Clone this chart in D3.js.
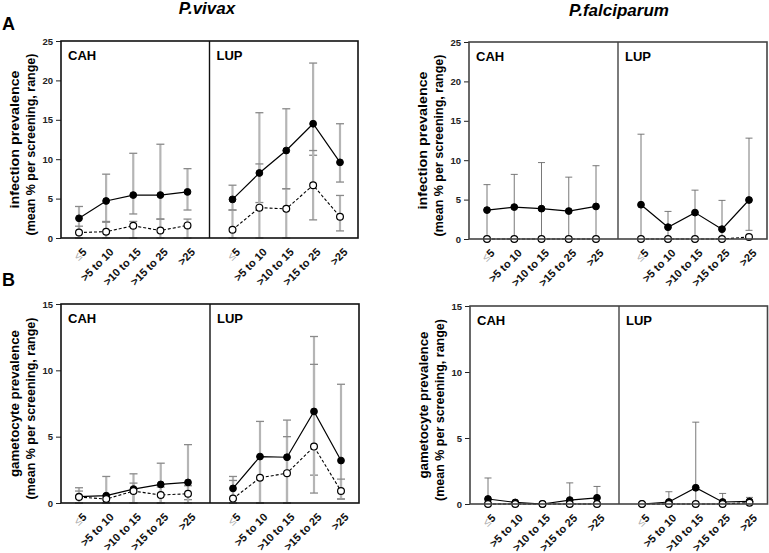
<!DOCTYPE html>
<html><head><meta charset="utf-8">
<script src="https://cdn.jsdelivr.net/npm/d3@7"></script>
<style>
body{margin:0;background:#fff}
text{font-family:"Liberation Sans",Arial,Helvetica,sans-serif}
</style>
</head><body>
<svg id="chart" width="769" height="553"></svg>
<script>
// ---------- data ----------
const categories = ["≤5", ">5 to 10", ">10 to 15", ">15 to 25", ">25"];
const sites = ["CAH", "LUP"];
const infectionTicks = [0, 5, 10, 15, 20, 25];
const gametocyteTicks = [0, 5, 10, 15];
const speciesTitles = ["P.vivax", "P.falciparum"];
const rowLetters = ["A", "B"];
const infectionLabel = ["infection prevalence", "(mean % per screening, range)"];
const gametocyteLabel = ["gametocyte prevalence", "(mean % per screening, range)"];

// each entry: [mean, min, max]
// P.vivax infection
const pvInfCAHFilled = [[2.5, 0, 4.0], [4.7, 2.1, 8.1], [5.45, 3.05, 10.75], [5.45, 2.4, 11.9], [5.85, 3.55, 8.8]];
const pvInfCAHOpen   = [[0.7, 0, 1.5], [0.8, 0, 2.0], [1.55, 0, 2.1], [0.95, 0, 2.4], [1.6, 0, 2.4]];
const pvInfLUPFilled = [[4.9, 3.55, 6.7], [8.25, 4.5, 15.9], [11.1, 6.25, 16.4], [14.5, 10.5, 22.2], [9.6, 7.1, 14.5]];
const pvInfLUPOpen   = [[1.05, 0, 3.55], [3.85, 0, 9.4], [3.7, 0, 6.25], [6.7, 2.3, 11.1], [2.7, 0.9, 5.4]];
// P.falciparum infection
const pfInfCAHFilled = [[3.67, 0, 6.9], [4.05, 0, 8.2], [3.85, 0, 9.7], [3.55, 0, 7.85], [4.13, 0, 9.3]];
const pfInfCAHOpen   = [[0, 0, 0], [0, 0, 0], [0, 0, 0], [0, 0, 0], [0, 0, 0]];
const pfInfLUPFilled = [[4.35, 0, 13.3], [1.5, 0, 3.5], [3.35, 0, 6.2], [1.25, 0, 4.9], [4.95, 1.1, 12.8]];
const pfInfLUPOpen   = [[0, 0, 0], [0, 0, 0], [0, 0, 0], [0, 0, 0], [0.25, 0, 0.25]];
// P.vivax gametocytes
const pvGamCAHFilled = [[0.48, 0, 1.15], [0.55, 0, 2.0], [1.05, 0, 2.2], [1.4, 0, 3.0], [1.55, 0.25, 4.4]];
const pvGamCAHOpen   = [[0.45, 0, 0.9], [0.3, 0, 0.6], [0.9, 0, 1.5], [0.6, 0, 1.2], [0.7, 0, 1.3]];
const pvGamLUPFilled = [[1.1, 0, 2.0], [3.5, 0, 6.15], [3.45, 0, 6.25], [6.9, 2.1, 12.55], [3.2, 0.3, 8.95]];
const pvGamLUPOpen   = [[0.33, 0, 1.7], [1.9, 0, 3.5], [2.25, 0, 5.0], [4.25, 0.75, 10.45], [0.9, 0.3, 1.8]];
// P.falciparum gametocytes
const pfGamCAHFilled = [[0.38, 0, 1.97], [0.12, 0, 0.15], [0, 0, 0], [0.3, 0, 1.6], [0.47, 0, 1.33]];
const pfGamCAHOpen   = [[0, 0, 0], [0, 0, 0], [0, 0, 0], [0, 0, 0], [0, 0, 0]];
const pfGamLUPFilled = [[0, 0, 0], [0.15, 0, 0.93], [1.23, 0, 6.2], [0.15, 0, 0.8], [0.2, 0, 0.5]];
const pfGamLUPOpen   = [[0, 0, 0], [0, 0, 0], [0, 0, 0], [0, 0, 0], [0.1, 0, 0.1]];

// ---------- layout ----------
const panels = [
  {x0: 61, div: 209.5, x1: 358, top: 41, bot: 238, ymax: 25, ticks: infectionTicks, label: infectionLabel,
   len: [138, 182], kind: "vivax", frame: "#111",
   data: {CAH: [pvInfCAHFilled, pvInfCAHOpen], LUP: [pvInfLUPFilled, pvInfLUPOpen]}},
  {x0: 469, div: 618, x1: 767, top: 42, bot: 239, ymax: 25, ticks: infectionTicks, label: infectionLabel,
   len: [138, 182], kind: "falc", frame: "#444",
   data: {CAH: [pfInfCAHFilled, pfInfCAHOpen], LUP: [pfInfLUPFilled, pfInfLUPOpen]}},
  {x0: 61, div: 210, x1: 359, top: 304, bot: 503, ymax: 15, ticks: gametocyteTicks, label: gametocyteLabel,
   len: [147, 182], kind: "vivax", frame: "#111",
   data: {CAH: [pvGamCAHFilled, pvGamCAHOpen], LUP: [pvGamLUPFilled, pvGamLUPOpen]}},
  {x0: 470, div: 619, x1: 767.5, top: 306, bot: 504, ymax: 15, ticks: gametocyteTicks, label: gametocyteLabel,
   len: [147, 182], kind: "falc", frame: "#444",
   data: {CAH: [pfGamCAHFilled, pfGamCAHOpen], LUP: [pfGamLUPFilled, pfGamLUPOpen]}}
];

const svg = d3.select("#chart");

// titles
svg.append("text").attr("x", 207).attr("y", 14).attr("text-anchor", "middle")
  .attr("font-size", 17).attr("font-weight", "bold").attr("font-style", "italic").text(speciesTitles[0]);
svg.append("text").attr("x", 619).attr("y", 16).attr("text-anchor", "middle")
  .attr("font-size", 17).attr("font-weight", "bold").attr("font-style", "italic").text(speciesTitles[1]);
svg.append("text").attr("x", 2).attr("y", 30).attr("font-size", 18).attr("font-weight", "bold").text(rowLetters[0]);
svg.append("text").attr("x", 2).attr("y", 286).attr("font-size", 18).attr("font-weight", "bold").text(rowLetters[1]);

panels.forEach(p => {
  const g = svg.append("g");
  const y = d3.scaleLinear().domain([0, p.ymax]).range([p.bot, p.top]);
  const xs = {
    CAH: d3.scalePoint().domain(categories).range([p.x0 + 18, p.div - 22]),
    LUP: d3.scalePoint().domain(categories).range([p.div + 23, p.x1 - 18])
  };
  const isV = p.kind === "vivax";
  const barColor = isV ? "#b5b5b5" : "#6a6a6a";
  const barW = isV ? 2.2 : 0.9;
  const capColor = isV ? "#8a8a8a" : "#6a6a6a";
  const capW = isV ? 1.3 : 0.9;
  const capHalf = isV ? 4 : 3.5;

  // y axis
  const ya = g.append("g").attr("transform", `translate(${p.x0},0)`)
    .call(d3.axisLeft(y).tickValues(p.ticks).tickSize(5).tickPadding(3));
  ya.select(".domain").remove();
  ya.selectAll("line").attr("stroke", "#222").attr("stroke-width", 1);
  ya.selectAll("text").attr("font-size", 9.5).attr("font-weight", "bold").attr("fill", "#222")
    .attr("font-family", "'Liberation Sans',Arial,sans-serif");

  // y label
  const yc = (p.top + p.bot) / 2;
  [0, 1].forEach(i => {
    const bx = p.x0 - (i === 0 ? 42 : 26);
    g.append("text")
      .attr("transform", `translate(${bx},${yc + (i === 0 ? 0 : 5)}) rotate(-90)`)
      .attr("text-anchor", "middle").attr("font-size", 12.5).attr("font-weight", "bold")
      .attr("textLength", p.len[i]).attr("lengthAdjust", "spacingAndGlyphs")
      .text(p.label[i]);
  });

  // x axes
  sites.forEach(s => {
    const xa = g.append("g").attr("transform", `translate(0,${p.bot})`)
      .call(d3.axisBottom(xs[s]).tickSize(0));
    xa.select(".domain").remove();
    xa.selectAll("text")
      .attr("x", 0).attr("y", 0).attr("dy", "0.35em")
      .attr("transform", "translate(5,12) rotate(-45)")
      .attr("text-anchor", "end").attr("font-size", 11).attr("font-weight", "bold")
      .attr("fill", "#111").attr("font-family", "'Liberation Sans',Arial,sans-serif")
      .each(function(d) {
        if (d.startsWith("≤")) {
          const t = d3.select(this); t.text("");
          t.append("tspan").attr("fill", "#aaa").attr("font-weight", "normal").text("≤");
          t.append("tspan").text(d.slice(1));
        }
      });
    // site label
    g.append("text").attr("x", (s === "CAH" ? p.x0 : p.div) + 7).attr("y", p.top + 19)
      .attr("font-size", 13).attr("font-weight", "bold").text(s);
  });

  // data
  sites.forEach(s => {
    const x = xs[s];
    const [filled, open] = p.data[s];
    [filled, open].forEach(series => {
      const eb = g.append("g");
      series.forEach((v, i) => {
        const cx = x(categories[i]);
        if (v[2] - v[1] <= 0) return;
        eb.append("line").attr("x1", cx).attr("x2", cx).attr("y1", y(v[1])).attr("y2", y(v[2]))
          .attr("stroke", barColor).attr("stroke-width", barW);
        [v[1], v[2]].forEach(c => {
          eb.append("line").attr("x1", cx - capHalf).attr("x2", cx + capHalf)
            .attr("y1", y(c)).attr("y2", y(c)).attr("stroke", capColor).attr("stroke-width", capW);
        });
      });
    });
    const line = d3.line().x((v, i) => x(categories[i])).y(v => y(v[0]));
    g.append("path").datum(filled).attr("d", line).attr("fill", "none").attr("stroke", "#000").attr("stroke-width", 1.2);
    g.append("path").datum(open).attr("d", line).attr("fill", "none").attr("stroke", "#000")
      .attr("stroke-width", 1.1).attr("stroke-dasharray", "3,2");
    g.selectAll(null).data(filled).enter().append("circle")
      .attr("cx", (v, i) => x(categories[i])).attr("cy", v => y(v[0])).attr("r", 3.4)
      .attr("fill", "#000").attr("stroke", "#000").attr("stroke-width", 1);
    g.selectAll(null).data(open).enter().append("circle")
      .attr("cx", (v, i) => x(categories[i])).attr("cy", v => y(v[0])).attr("r", 3.4)
      .attr("fill", "#fff").attr("stroke", "#000").attr("stroke-width", 1.2);
  });

  // frame and divider
  g.append("rect").attr("x", p.x0).attr("y", p.top).attr("width", p.x1 - p.x0).attr("height", p.bot - p.top)
    .attr("fill", "none").attr("stroke", p.frame).attr("stroke-width", 1.6);
  g.append("line").attr("x1", p.div).attr("x2", p.div).attr("y1", p.top).attr("y2", p.bot)
    .attr("stroke", p.frame).attr("stroke-width", 1.4);
});
</script>
</body></html>
